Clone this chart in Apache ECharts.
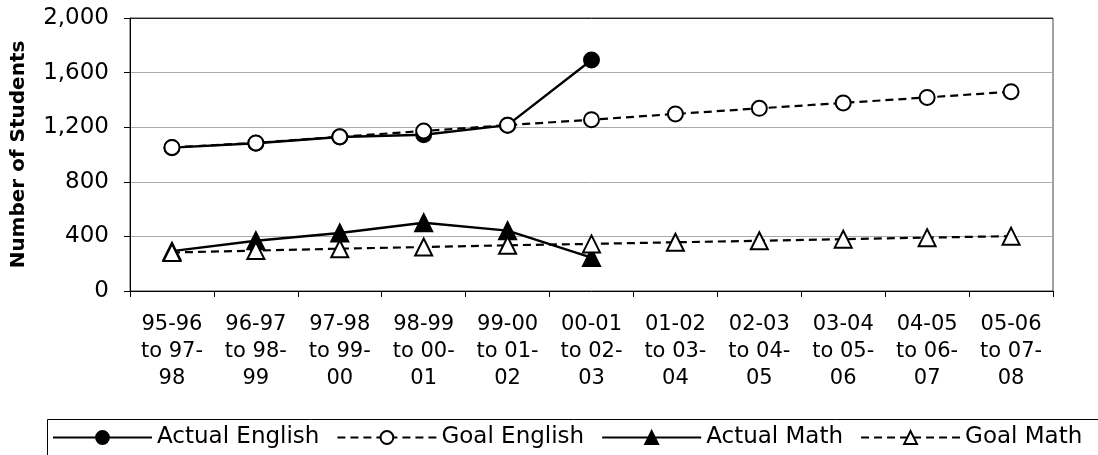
<!DOCTYPE html>
<html>
<head>
<meta charset="utf-8">
<script src="https://cdn.jsdelivr.net/npm/echarts@6/dist/echarts.min.js"></script>
<style>
  html, body { margin: 0; padding: 0; background: #fff; }
  #chart { width: 1098px; height: 455px; }
</style>
</head>
<body>
<div id="chart"></div>
<script>
// Three-year periods on the category axis
const periods = [
  '95-96\nto 97-\n98', '96-97\nto 98-\n99', '97-98\nto 99-\n00', '98-99\nto 00-\n01',
  '99-00\nto 01-\n02', '00-01\nto 02-\n03', '01-02\nto 03-\n04', '02-03\nto 04-\n05',
  '03-04\nto 05-\n06', '04-05\nto 06-\n07', '05-06\nto 07-\n08'
];

// Student counts per period
const actualEnglish = [1050, 1082, 1128, 1145, 1215, 1692, null, null, null, null, null];
const goalEnglish   = [1052, 1085, 1130, 1172, 1215, 1255, 1297, 1338, 1378, 1418, 1460];
const actualMath    = [292, 368, 425, 500, 442, 245, null, null, null, null, null];
const goalMath      = [282, 296, 310, 322, 335, 345, 357, 368, 380, 391, 402];

const yTicks = { min: 0, max: 2000, interval: 400 };

const FONT = 'DejaVu Sans';
const chart = echarts.init(document.getElementById('chart'));

function lineSeries(name, data, symbol, filled, dashed, size) {
  return {
    name: name,
    type: 'line',
    data: data,
    symbol: symbol,
    symbolSize: size,
    showSymbol: true,
    connectNulls: false,
    animation: false,
    lineStyle: { color: '#000', width: dashed ? 2.2 : 2.4, type: dashed ? [8, 5] : 'solid' },
    itemStyle: { color: filled ? '#000' : '#fff', borderColor: '#000', borderWidth: 2 },
    emphasis: { disabled: true }
  };
}

chart.setOption({
  backgroundColor: '#fff',
  animation: false,
  textStyle: { fontFamily: FONT, color: '#000' },
  grid: {
    left: 130, right: 45, top: 18, bottom: 164,
    outerBoundsMode: 'none',
    containLabel: false,
    show: true, borderColor: '#444', borderWidth: 1, backgroundColor: 'transparent'
  },
  legend: {
    left: 52, top: 426,
    padding: 0,
    itemWidth: 99, itemHeight: 16, itemGap: 17,
    textStyle: { fontFamily: FONT, fontSize: 23, color: '#000' },
    data: ['Actual English', 'Goal English', 'Actual Math', 'Goal Math']
  },
  xAxis: {
    type: 'category',
    data: periods,
    boundaryGap: true,
    axisLine: { lineStyle: { color: '#000', width: 1 } },
    axisTick: { show: true, alignWithLabel: false, length: 6, lineStyle: { color: '#000' } },
    axisLabel: { fontFamily: FONT, fontSize: 21, color: '#000', lineHeight: 27, margin: 20, interval: 0, align: 'center' },
    splitLine: { show: false }
  },
  yAxis: {
    type: 'value',
    min: yTicks.min, max: yTicks.max, interval: yTicks.interval,
    name: 'Number of Students',
    nameLocation: 'middle',
    nameGap: 101,
    nameRotate: 90,
    nameTextStyle: { fontFamily: FONT, fontSize: 20, fontWeight: 'bold', color: '#000' },
    axisLine: { show: true, lineStyle: { color: '#000', width: 1 } },
    axisTick: { show: true, length: 6, lineStyle: { color: '#000' } },
    axisLabel: {
      fontFamily: FONT, fontSize: 23, color: '#000', margin: 21,
      formatter: v => v.toLocaleString('en-US')
    },
    splitLine: { show: true, lineStyle: { color: ['#aaa', '#aaa', '#aaa', '#aaa', '#aaa', '#222'], width: 1 } }
  },
  graphic: [{
    type: 'rect',
    left: 45, top: 417,
    shape: { width: 1100, height: 60 },
    style: { fill: 'none', stroke: '#000', lineWidth: 1 },
    silent: true
  }],
  series: [
    lineSeries('Actual English', actualEnglish, 'circle', true, false, 15),
    lineSeries('Goal English', goalEnglish, 'circle', false, true, 15),
    lineSeries('Actual Math', actualMath, 'triangle', true, false, 17),
    lineSeries('Goal Math', goalMath, 'triangle', false, true, 17)
  ]
});
</script>
</body>
</html>
